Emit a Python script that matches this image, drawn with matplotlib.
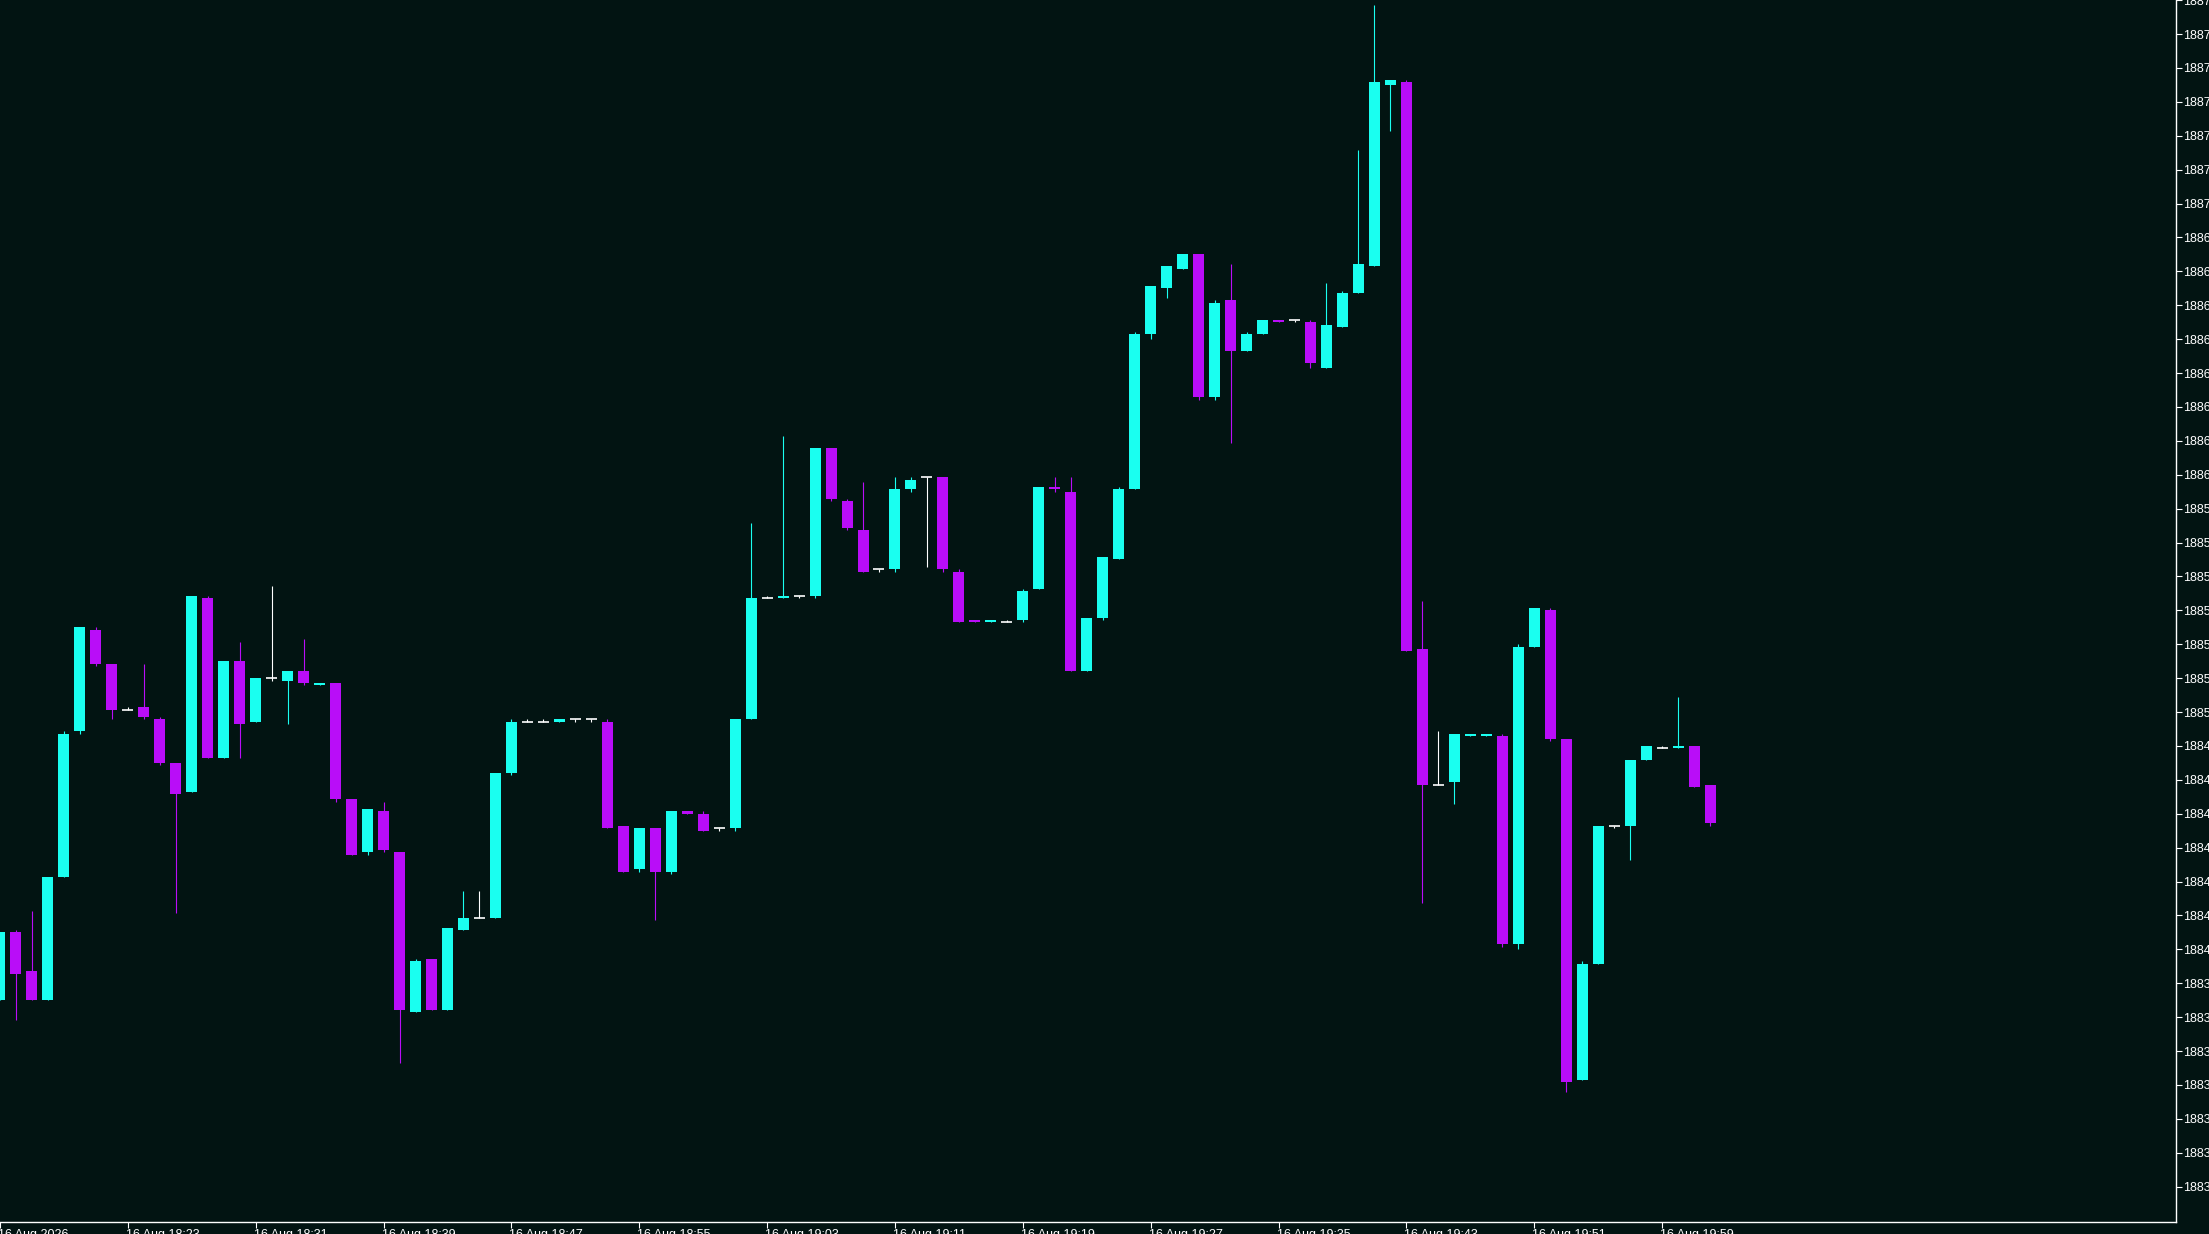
import numpy as np
import matplotlib
matplotlib.use("Agg")
import matplotlib.pyplot as plt
import matplotlib.transforms as mtrans

# 1-minute bars, 16 Aug, 18:15 .. 20:02
opens = [1883.83, 1884.11, 1883.95, 1883.83, 1884.34, 1884.94, 1885.36, 1885.22, 1885.03, 1885.04,
         1884.99, 1884.81, 1884.69, 1885.49, 1884.83, 1885.23, 1884.98, 1885.16, 1885.15, 1885.19,
         1885.13, 1885.14, 1884.66, 1884.44, 1884.61, 1884.44, 1883.78, 1884.00, 1883.79, 1884.12,
         1884.17, 1884.17, 1884.77, 1884.98, 1884.98, 1884.98, 1884.99, 1884.99, 1884.98, 1884.55,
         1884.37, 1884.54, 1884.36, 1884.61, 1884.60, 1884.54, 1884.54, 1884.99, 1885.49, 1885.49,
         1885.50, 1885.50, 1886.11, 1885.89, 1885.77, 1885.61, 1885.61, 1885.94, 1885.99, 1885.99,
         1885.60, 1885.40, 1885.39, 1885.39, 1885.40, 1885.53, 1885.95, 1885.93, 1885.19, 1885.41,
         1885.65, 1885.94, 1886.58, 1886.77, 1886.85, 1886.91, 1886.32, 1886.72, 1886.51, 1886.58,
         1886.64, 1886.64, 1886.63, 1886.44, 1886.61, 1886.75, 1886.86, 1887.61, 1887.62, 1885.28,
         1884.72, 1884.73, 1884.92, 1884.92, 1884.92, 1884.06, 1885.29, 1885.44, 1884.91, 1883.50,
         1883.98, 1884.55, 1884.55, 1884.82, 1884.87, 1884.87, 1884.88, 1884.72]
highs = [1884.11, 1884.12, 1884.20, 1884.34, 1884.94, 1885.37, 1885.37, 1885.22, 1885.04, 1885.22,
         1885.00, 1884.81, 1885.50, 1885.50, 1885.23, 1885.31, 1885.16, 1885.54, 1885.19, 1885.32,
         1885.14, 1885.14, 1884.66, 1884.62, 1884.65, 1884.44, 1884.00, 1884.00, 1884.13, 1884.28,
         1884.28, 1884.77, 1884.99, 1884.99, 1884.99, 1884.99, 1884.99, 1884.99, 1884.99, 1884.55,
         1884.54, 1884.54, 1884.61, 1884.61, 1884.61, 1884.54, 1884.99, 1885.80, 1885.50, 1886.16,
         1885.50, 1886.11, 1886.11, 1885.90, 1885.97, 1885.61, 1885.99, 1885.99, 1885.99, 1885.99,
         1885.61, 1885.40, 1885.40, 1885.40, 1885.53, 1885.95, 1885.99, 1885.99, 1885.41, 1885.66,
         1885.95, 1886.59, 1886.78, 1886.86, 1886.91, 1886.91, 1886.72, 1886.87, 1886.59, 1886.64,
         1886.64, 1886.64, 1886.64, 1886.79, 1886.76, 1887.34, 1887.94, 1887.63, 1887.63, 1885.48,
         1884.94, 1884.93, 1884.93, 1884.93, 1884.93, 1885.30, 1885.45, 1885.45, 1884.91, 1883.99,
         1884.55, 1884.55, 1884.82, 1884.88, 1884.88, 1885.08, 1884.88, 1884.72]
lows = [1883.83, 1883.75, 1883.83, 1883.83, 1884.34, 1884.93, 1885.21, 1884.99, 1885.03, 1884.99,
        1884.80, 1884.19, 1884.69, 1884.83, 1884.83, 1884.83, 1884.98, 1885.15, 1884.97, 1885.13,
        1885.13, 1884.65, 1884.43, 1884.43, 1884.44, 1883.57, 1883.78, 1883.79, 1883.79, 1884.12,
        1884.17, 1884.17, 1884.76, 1884.98, 1884.98, 1884.98, 1884.98, 1884.98, 1884.54, 1884.36,
        1884.36, 1884.16, 1884.35, 1884.60, 1884.53, 1884.53, 1884.53, 1884.99, 1885.49, 1885.49,
        1885.49, 1885.49, 1885.89, 1885.77, 1885.60, 1885.60, 1885.60, 1885.93, 1885.62, 1885.60,
        1885.39, 1885.39, 1885.39, 1885.39, 1885.39, 1885.53, 1885.93, 1885.19, 1885.19, 1885.40,
        1885.65, 1885.94, 1886.56, 1886.73, 1886.85, 1886.31, 1886.31, 1886.13, 1886.51, 1886.58,
        1886.63, 1886.63, 1886.44, 1886.44, 1886.61, 1886.75, 1886.86, 1887.42, 1885.27, 1884.23,
        1884.72, 1884.64, 1884.92, 1884.92, 1884.05, 1884.04, 1885.29, 1884.90, 1883.45, 1883.50,
        1883.98, 1884.54, 1884.41, 1884.82, 1884.87, 1884.87, 1884.71, 1884.55]
closes = [1884.11, 1883.94, 1883.83, 1884.34, 1884.93, 1885.37, 1885.22, 1885.03, 1885.03, 1885.00,
          1884.81, 1884.68, 1885.50, 1884.83, 1885.23, 1884.97, 1885.16, 1885.16, 1885.19, 1885.14,
          1885.14, 1884.66, 1884.43, 1884.62, 1884.45, 1883.79, 1883.99, 1883.79, 1884.13, 1884.17,
          1884.17, 1884.77, 1884.98, 1884.98, 1884.98, 1884.99, 1884.99, 1884.99, 1884.54, 1884.36,
          1884.54, 1884.36, 1884.61, 1884.60, 1884.53, 1884.54, 1884.99, 1885.49, 1885.49, 1885.50,
          1885.50, 1886.11, 1885.90, 1885.78, 1885.60, 1885.61, 1885.94, 1885.98, 1885.99, 1885.61,
          1885.39, 1885.39, 1885.40, 1885.39, 1885.52, 1885.95, 1885.94, 1885.19, 1885.41, 1885.66,
          1885.94, 1886.58, 1886.78, 1886.86, 1886.91, 1886.32, 1886.71, 1886.51, 1886.58, 1886.64,
          1886.63, 1886.64, 1886.46, 1886.62, 1886.75, 1886.87, 1887.62, 1887.63, 1885.27, 1884.72,
          1884.72, 1884.93, 1884.93, 1884.93, 1884.06, 1885.29, 1885.45, 1884.91, 1883.49, 1883.98,
          1884.55, 1884.55, 1884.82, 1884.88, 1884.87, 1884.88, 1884.71, 1884.56]

time_labels = ["16 Aug 2026", "16 Aug 18:23", "16 Aug 18:31", "16 Aug 18:39", "16 Aug 18:47",
               "16 Aug 18:55", "16 Aug 19:03", "16 Aug 19:11", "16 Aug 19:19", "16 Aug 19:27",
               "16 Aug 19:35", "16 Aug 19:43", "16 Aug 19:51", "16 Aug 19:59"]
price_ticks = [1887.96 - 0.14 * n for n in range(36)]

bg = "#021412"
up_col = "#1afff0"
dn_col = "#b90df8"
doji_col = "#ffffff"
axis_col = "#ffffff"

o = np.array(opens)
h = np.array(highs)
l = np.array(lows)
c = np.array(closes)
x = np.arange(len(o))

fig = plt.figure(figsize=(22.09, 12.34), dpi=100, facecolor=bg)
ax = fig.add_axes([0, 12 / 1234, 2176 / 2209, 1222 / 1234])
ax.set_facecolor(bg)

w = 11 / 16
up = c > o
dn = c < o
dj = c == o

# wicks
ax.vlines(x[up], l[up], h[up], color=up_col, lw=0.8)
ax.vlines(x[dn], l[dn], h[dn], color=dn_col, lw=0.8)
ax.vlines(x[dj], l[dj], h[dj], color=doji_col, lw=0.8)
# bodies
ax.bar(x[up], (c - o)[up], bottom=o[up], width=w, color=up_col, linewidth=0)
ax.bar(x[dn], (o - c)[dn], bottom=c[dn], width=w, color=dn_col, linewidth=0)
ax.hlines(c[dj], x[dj] - w / 2, x[dj] + w / 2, color=doji_col, lw=1.2)

ax.set_xlim(2.5 / 16, 2178.5 / 16)
ax.set_ylim(price_ticks[0] - 0.14 * 1221.9 / 33.9, price_ticks[0] + 0.14 * 0.1 / 33.9)

for s in ["top", "left"]:
    ax.spines[s].set_visible(False)
for s in ["right", "bottom"]:
    ax.spines[s].set_color(axis_col)
    ax.spines[s].set_linewidth(1.0)

ax.yaxis.tick_right()
ax.set_yticks(price_ticks)
ax.set_yticklabels([f"{v:.2f}" for v in price_ticks])
ax.set_xticks(np.arange(0, 8 * len(time_labels), 8))
ax.set_xticklabels(time_labels, ha="left")
ax.tick_params(axis="both", direction="out", length=4, width=0.8, colors=axis_col,
               labelsize=9, pad=1)
shift = mtrans.ScaledTranslation(-2 / 100, 0, fig.dpi_scale_trans)
for t in ax.get_xticklabels():
    t.set_transform(t.get_transform() + shift)
for t in ax.get_xticklabels() + ax.get_yticklabels():
    t.set_fontfamily("Liberation Sans")

fig.savefig("out.png", dpi=100, facecolor=bg)
